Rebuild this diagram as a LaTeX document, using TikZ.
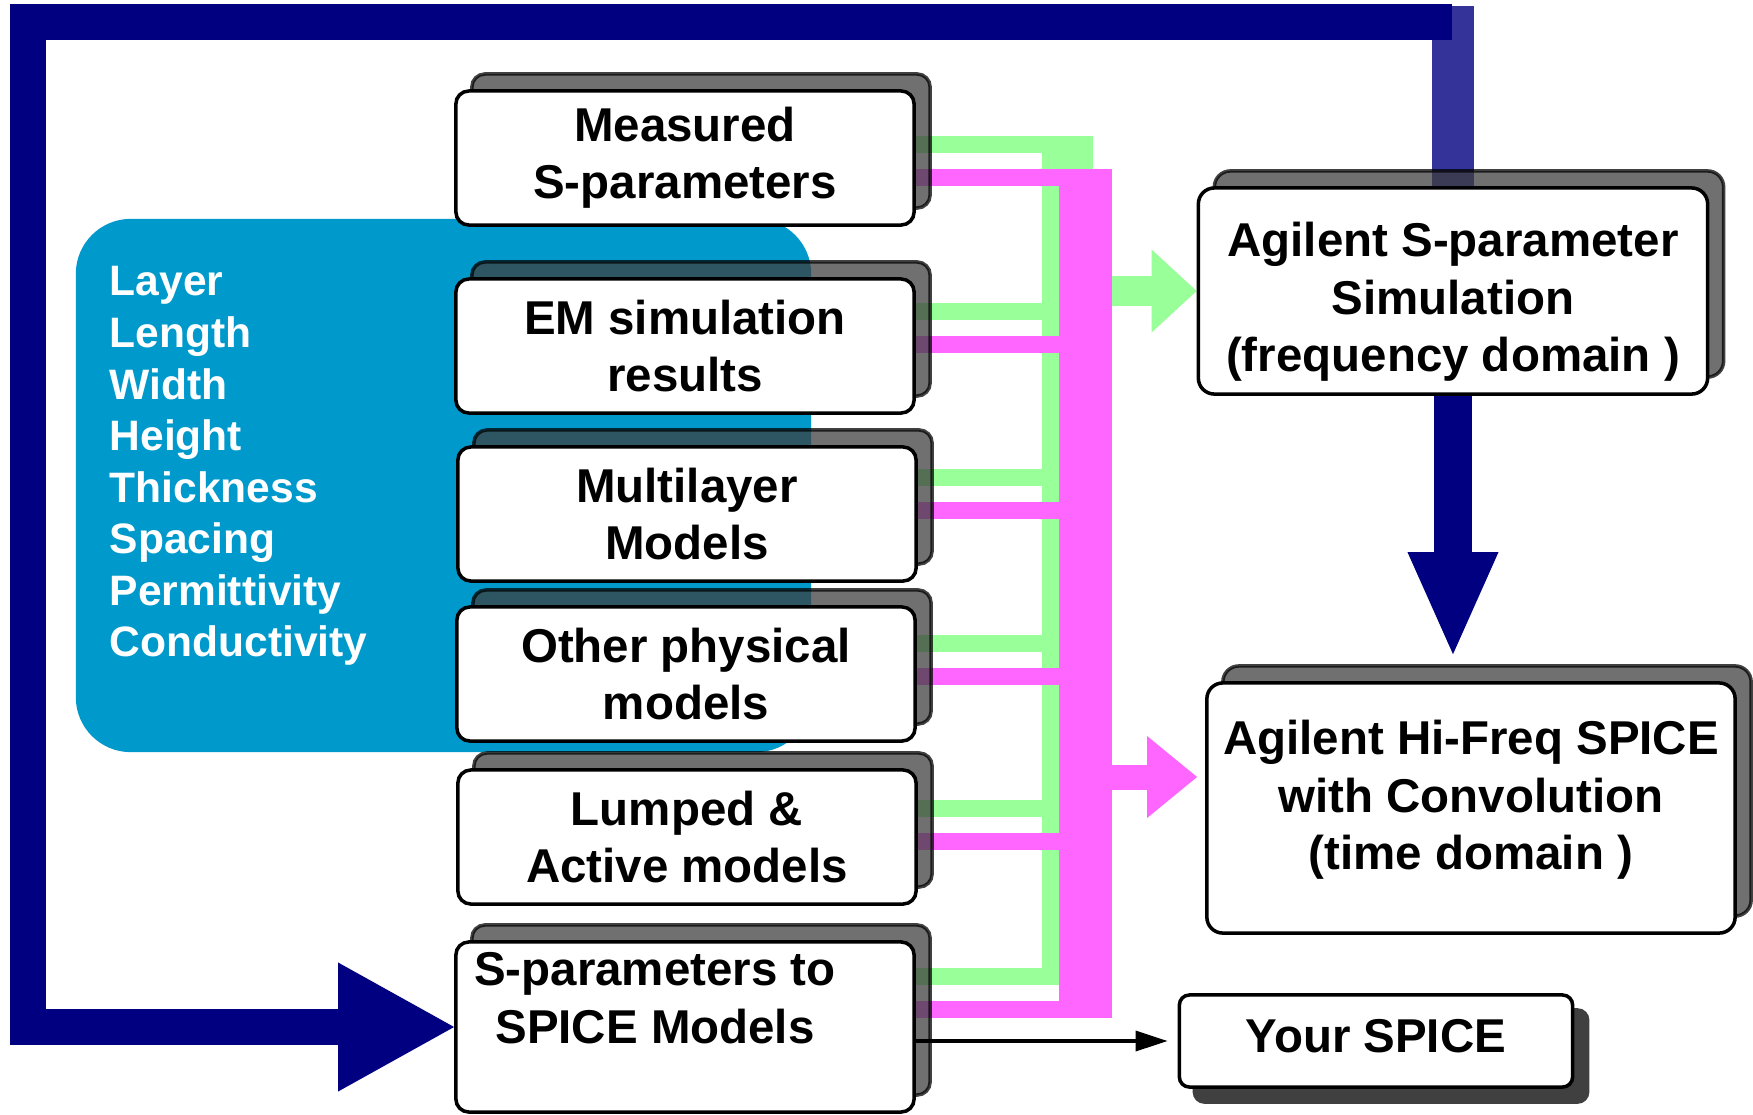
\documentclass[tikz,border=0pt]{standalone}
\usepackage{fontspec}
\setmainfont{Liberation Sans}
\usetikzlibrary{arrows.meta,shadows,positioning}
\definecolor{loopnavy}{RGB}{0,0,128}
\definecolor{parblue}{RGB}{0,153,204}
\definecolor{busgreen}{RGB}{153,255,153}
\definecolor{buspink}{RGB}{255,102,255}
\definecolor{shadegray}{RGB}{62,62,62}
\definecolor{spiceshade}{RGB}{64,64,64}
\pgfdeclarelayer{background}
\pgfsetlayers{background,main}
\tikzset{
  boxfont/.style={font=\fontsize{13.5}{16.3}\selectfont\bfseries},
  captext/.style={boxfont, align=center, inner sep=0pt},
  framebox/.style={draw=black, line width=1pt, fill=white, rounded corners=0.13cm, align=center, boxfont, inner sep=0pt},
  liftshadow/.style={copy shadow={shadow xshift=0.16cm, shadow yshift=0.17cm, fill=shadegray, fill opacity=0.74, draw=black, draw opacity=0.74}},
  modelbox/.style={framebox, liftshadow, minimum width=4.58cm, minimum height=1.34cm},
  toolbox/.style={framebox, liftshadow, rounded corners=0.16cm},
  spicebox/.style={framebox, rounded corners=0.1cm, copy shadow={shadow xshift=0.15cm, shadow yshift=-0.15cm, fill=spiceshade, draw=spiceshade}},
  parambg/.style={fill=parblue, rounded corners=0.55cm, minimum width=7.35cm, minimum height=5.33cm, inner sep=0pt},
  paramtext/.style={text=white, align=left, inner sep=0pt, font=\fontsize{12.1}{14.65}\selectfont\bfseries},
  greenline/.style={draw=busgreen, line width=0.17cm},
  pinkline/.style={draw=buspink, line width=0.17cm},
  loopline/.style={draw=loopnavy, line width=0.36cm, line join=miter, -{Triangle[length=1.16cm, width=1.29cm, line width=0pt]}}
}
\begin{document}
\begin{tikzpicture}[x=0.01cm, y=-0.01cm]
\useasboundingbox (0,0) rectangle (1753,1114);
\node[parambg] (params) at (443.5,485.5) {};
\node[paramtext, anchor=north west] (plist) at (109,266) {Layer\\Length\\Width\\Height\\Thickness\\Spacing\\Permittivity\\Conductivity};
%============
\node[modelbox] (M) at (685,158) {Measured\\S-parameters};
\node[modelbox] (EM) at (685,346) {EM simulation\\results};
\node[modelbox] (ML) at (687,514) {Multilayer\\Models};
\node[modelbox] (OP) at (686,674) {Other physical\\models};
\node[modelbox] (LA) at (687,837) {Lumped \&\\Active models};
\node[modelbox, minimum height=1.70cm, label={[captext, xshift=-0.30cm, yshift=0.29cm]center:{S-parameters to\\SPICE Models}}] (S2S) at (685,1027) {};
%============
\node[toolbox, minimum width=5.09cm, minimum height=2.06cm, label={[captext, yshift=-0.11cm]center:{Agilent S-parameter\\Simulation\\(frequency domain )}}] (AgS) at (1453,291) {};
\node[toolbox, minimum width=5.28cm, minimum height=2.50cm, label={[captext, yshift=0.08cm]center:{Agilent Hi-Freq SPICE\\with Convolution\\(time domain )}}] (HiF) at (1471,808) {};
\node[spicebox, minimum width=3.93cm, minimum height=0.92cm, label={[captext, yshift=0.045cm]center:Your SPICE}] (YS) at (1376,1041) {};
%============
\coordinate (gtop) at (1067.5,135.5);
\coordinate (gbot) at (1067.5,984.5);
\coordinate (ptop) at (1085.5,168.5);
\coordinate (pbot) at (1085.5,1017.5);
\coordinate (ptap) at (1085.5,777);
\coordinate (loopend) at (1452,22);
\begin{pgfonlayer}{background}
  \foreach \nd/\gy in {M/144, EM/311, ML/477, OP/643, LA/808, S2S/976}
    \draw[greenline] (\nd.east |- 0,\gy) -- (1093,\gy);
  \draw[greenline, line width=0.51cm] (gtop) -- (gbot);
  \draw[greenline, line width=0.30cm, -{Triangle[length=0.45cm, width=0.83cm, line width=0pt]}] (AgS.west -| gtop) -- (AgS.west);
  \foreach \nd/\py in {M/177, EM/344, ML/510, OP/676, LA/841, S2S/1009}
    \draw[pinkline] (\nd.east |- 0,\py) -- (1112,\py);
  \draw[pinkline, line width=0.53cm] (ptop) -- (pbot);
  \draw[pinkline, line width=0.25cm, -{Triangle[length=0.50cm, width=0.82cm, line width=0pt]}, shorten >=0.08cm] (ptap) -- (ptap -| HiF.west);
  \draw[draw=loopnavy, draw opacity=0.8, line width=0.41cm] (AgS.north) -- (AgS.north |- 0,6);
\end{pgfonlayer}
%==========
\draw[loopline] (loopend) -- (28,22) |- (S2S.west);
\draw[loopline, line width=0.38cm, -{Triangle[length=1.02cm, width=0.91cm, line width=0pt]}, shorten >=0.27cm] (AgS.south) -- (AgS.south |- HiF.north);
\draw[line width=1pt, -{Triangle[length=0.32cm, width=0.20cm]}, shorten >=0.1cm] (S2S.east |- YS.west) -- (YS.west);
\end{tikzpicture}
\end{document}
